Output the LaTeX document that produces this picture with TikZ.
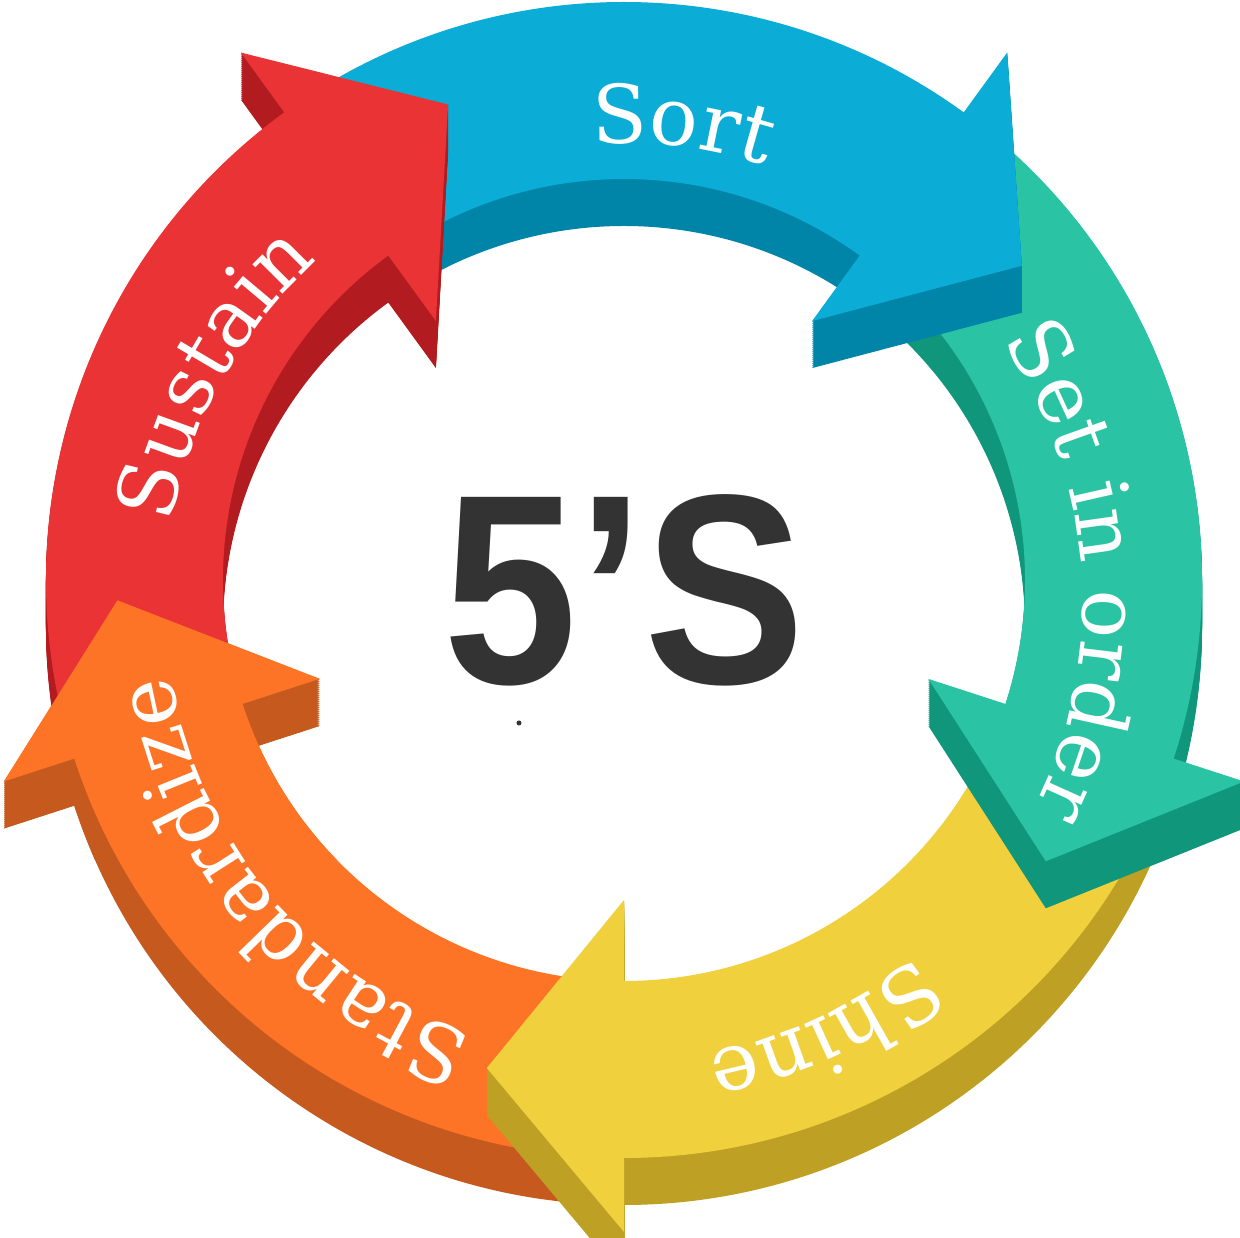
\documentclass[tikz,border=0pt]{standalone}
\usepackage{fontspec}
\newfontfamily\labelfont{DejaVu Serif}
\newfontfamily\fivefont{Liberation Sans}
\usetikzlibrary{decorations.text}

\definecolor{blueface}{HTML}{0BACD6}
\definecolor{blueside}{HTML}{0085A8}
\definecolor{greenface}{HTML}{2AC4A5}
\definecolor{greenside}{HTML}{10967B}
\definecolor{yellowface}{HTML}{F0D03C}
\definecolor{yellowside}{HTML}{BEA024}
\definecolor{orangeface}{HTML}{FD7427}
\definecolor{orangeside}{HTML}{C5591E}
\definecolor{redface}{HTML}{E93335}
\definecolor{redside}{HTML}{B21C20}
\definecolor{fivegray}{HTML}{333333}

\newcommand{\ringfont}{\labelfont\fontsize{23pt}{27pt}\selectfont}
% tail angle, head angle
\newcommand{\ringarrow}[2]{(#1:578) arc[start angle=#1, end angle=#2, radius=578]
  -- (#2:652) -- ({#2-15.7}:507) -- (#2:320) -- (#2:401)
  arc[start angle=#2, end angle=#1, radius=401] -- cycle}

\tikzset{
  ringlabel/.style={decorate, decoration={text along path, text={|\ringfont|#1},
    text color=white, text align=center}}
}

\begin{document}
\begin{tikzpicture}[x=0.1mm, y=0.1mm]
  \useasboundingbox (-624,-658) rectangle (616,580);
  \foreach \h/\fc/\sc in {-162/orangeface/orangeside, -90/yellowface/yellowside,
      -18/greenface/greenside, 54/blueface/blueside, 126/redface/redside}
  {
    \pgfmathsetmacro{\t}{\h+69}
    \foreach \d in {1,3,...,47} % edit here for the depth
      \fill[\sc, shift={(0,-\d)}] \ringarrow{\t}{\h};
    \fill[\fc] \ringarrow{\t}{\h};
  }
  % orange head lies over the red tail
  \begin{scope}
    \clip (-640,-280) rectangle (-270,40);
    \foreach \d in {1,3,...,47}
      \fill[orangeside, shift={(0,-\d)}] \ringarrow{-93}{-162};
    \fill[orangeface] \ringarrow{-93}{-162};
  \end{scope}

  \begin{scope}[shift={(0,-22)}]
    \path[ringlabel=Sort] (128:459) arc[start angle=128, end angle=38, radius=459];
    \path[ringlabel=Set in order] (49:459) arc[start angle=49, end angle=-41, radius=459];
    \path[ringlabel=Shine] (-20:459) arc[start angle=-20, end angle=-110, radius=459];
    \path[ringlabel=Standardize] (265:459) arc[start angle=265, end angle=175, radius=459];
    \path[ringlabel=Sustain] (196:459) arc[start angle=196, end angle=106, radius=459];
  \end{scope}

  \node[xscale=0.89, inner sep=0, text=fivegray] (fives) at (0,-10)
    {\fivefont\bfseries\fontsize{77pt}{77pt}\selectfont 5’S};
  \fill[fivegray] (-105,-143) circle (2.5);
\end{tikzpicture}
\end{document}
